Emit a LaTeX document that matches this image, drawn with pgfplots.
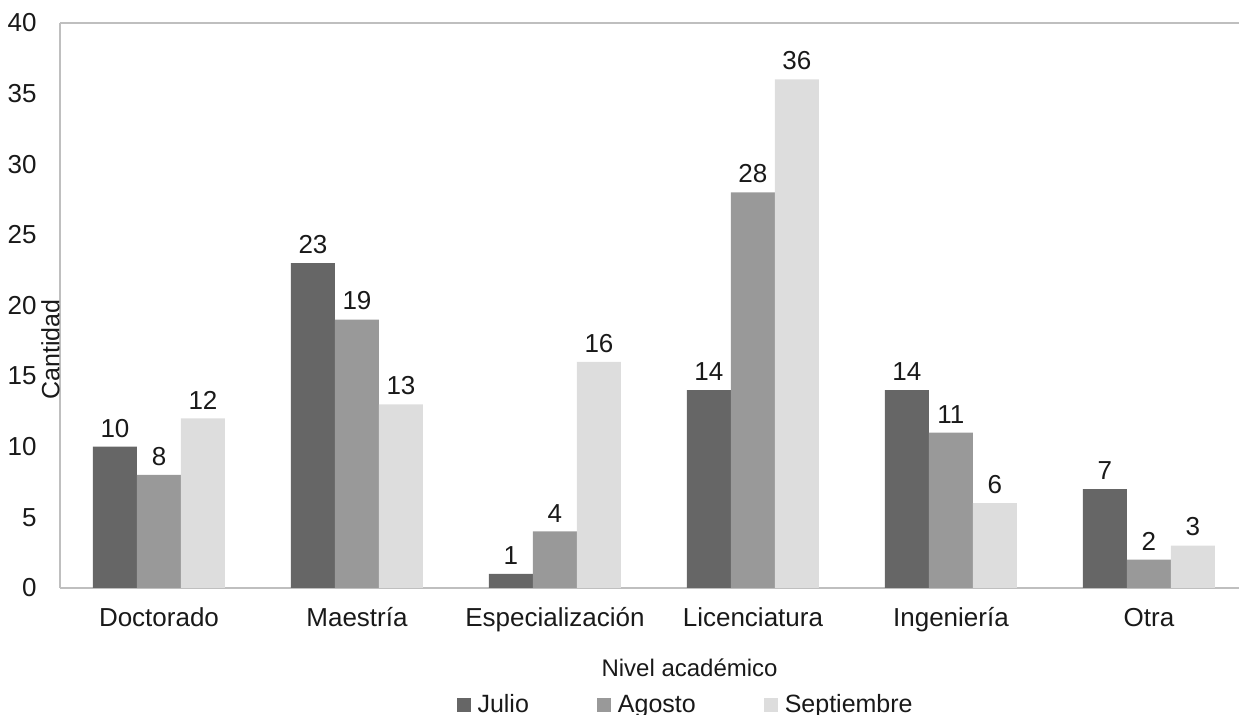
\documentclass[border=0pt]{standalone}
\usepackage{pgfplots}
\pgfplotsset{compat=1.18}
\usepackage{fontspec}
\setmainfont{Liberation Sans}
\definecolor{cJul}{RGB}{102,102,102}
\definecolor{cAgo}{RGB}{153,153,153}
\definecolor{cSep}{RGB}{221,221,221}
\definecolor{cAx}{RGB}{191,191,191}
\begin{document}
\begin{tikzpicture}
\begin{axis}[
  at={(0,0)}, anchor=south west,
  scale only axis,
  width=589.5pt, height=282.5pt,
  xmin=-0.5, xmax=5.455,
  ymin=0, ymax=40,
  ytick={0,5,...,40},
  xtick={0,1,2,3,4,5},
  xticklabels={Doctorado,Maestría,Especialización,Licenciatura,Ingeniería,Otra},
  axis x line=box, axis y line=left,
  axis line style={cAx, line width=1pt, -},
  major tick length=0pt,
  tick style={draw=none},
  /pgf/number format/assume math mode=true,
  ticklabel style={font=\fontsize{13}{15}\selectfont, text=black!90},
  yticklabel style={anchor=east, inner sep=0pt, xshift=-11.5pt},
  xticklabel style={anchor=base, inner sep=0pt, yshift=-19.5pt},
  ybar=0pt, bar width=22pt,
  nodes near coords,
  every node near coord/.append style={font=\fontsize{13}{15}\selectfont, text=black!90, yshift=1.2pt},
  xlabel={Nivel académico},
  xlabel style={at={(axis description cs:0.534,0)}, anchor=base, inner sep=0pt, yshift=-44.5pt, font=\fontsize{12}{14}\selectfont, text=black!90},
  ylabel={Cantidad},
  every axis y label/.style={at={(axis description cs:0,0.44)}, rotate=90, anchor=south, inner sep=0pt, xshift=-5pt, font=\fontsize{12.5}{14}\selectfont, text=black!90},
  legend columns=3,
  legend style={draw=none, at={(axis description cs:0.336,0)}, anchor=north west, yshift=-51pt, inner sep=0pt, font=\fontsize{12.5}{15}\selectfont, text=black!90,
    /tikz/every odd column/.append style={column sep=1.5pt},
    /tikz/every even column/.append style={column sep=32pt}},
  legend image code/.code={\fill[#1] (0pt,-3.5pt) rectangle (7pt,3.5pt);},
]
\addplot[fill=cJul, draw=none] coordinates {(0,10) (1,23) (2,1) (3,14) (4,14) (5,7)};
\addplot[fill=cAgo, draw=none] coordinates {(0,8) (1,19) (2,4) (3,28) (4,11) (5,2)};
\addplot[fill=cSep, draw=none] coordinates {(0,12) (1,13) (2,16) (3,36) (4,6) (5,3)};
\legend{Julio,Agosto,Septiembre}
\end{axis}
\pgfresetboundingbox
\useasboundingbox (-30pt,-63.5pt) rectangle (589.5pt,294pt);
\end{tikzpicture}
\end{document}
